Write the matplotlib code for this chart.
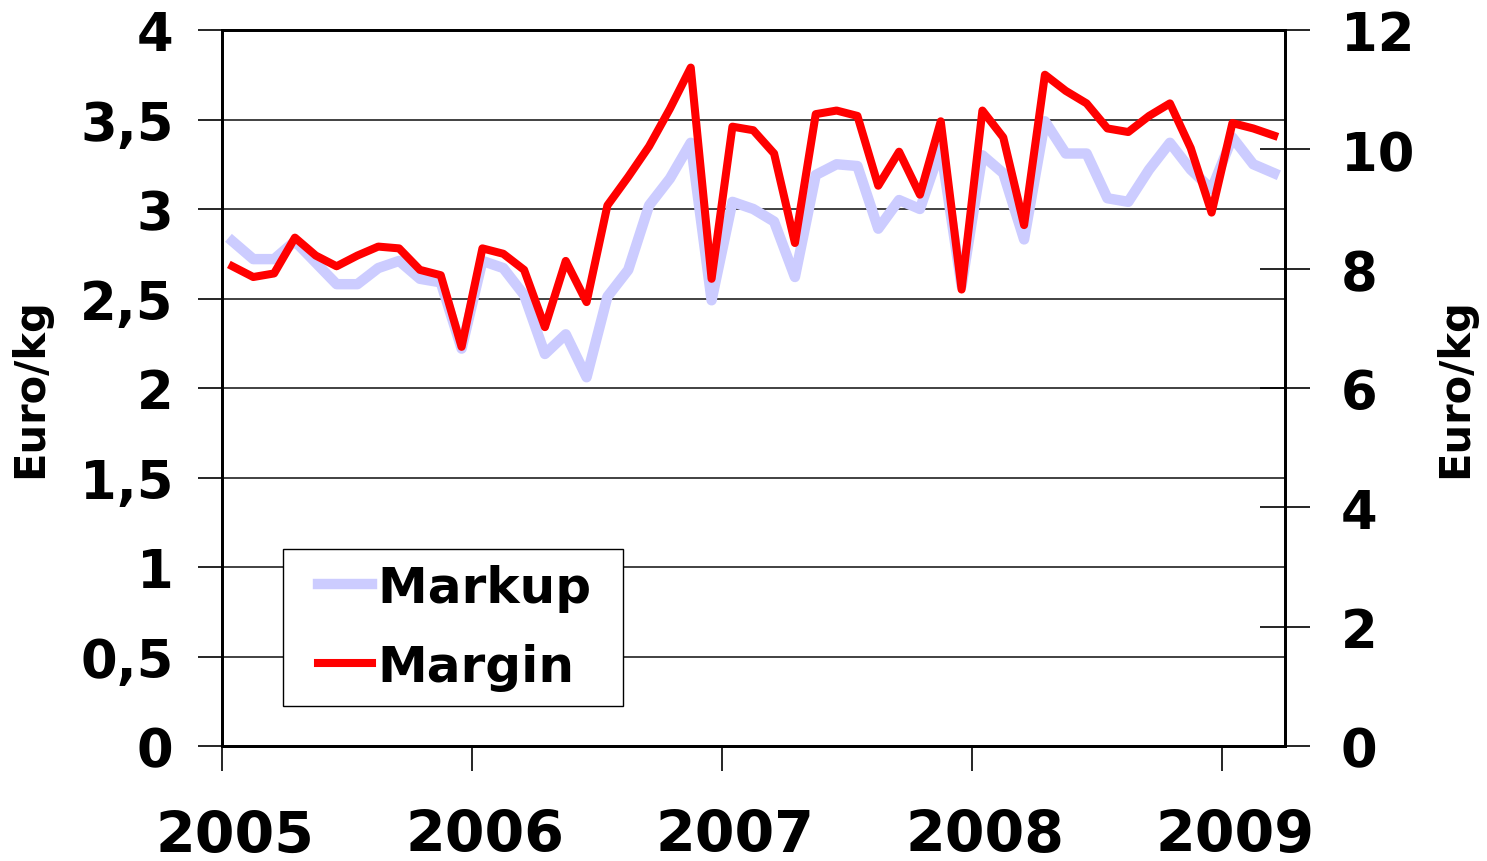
import numpy as np
import matplotlib
matplotlib.use('Agg')
import matplotlib.pyplot as plt
from matplotlib.legend_handler import HandlerLine2D

# monthly values, Jan 2005 - Mar 2009 (Euro/kg)
markup = [2.82, 2.72, 2.72, 2.82, 2.70, 2.58, 2.58, 2.67, 2.71, 2.61, 2.59, 2.22,
          2.71, 2.67, 2.52, 2.19, 2.30, 2.06, 2.51, 2.66, 3.02, 3.17, 3.37, 2.49,
          3.04, 3.00, 2.93, 2.62, 3.19, 3.25, 3.24, 2.89, 3.05, 3.00, 3.34, 2.57,
          3.30, 3.20, 2.83, 3.49, 3.31, 3.31, 3.06, 3.04, 3.22, 3.37, 3.22, 3.11,
          3.40, 3.25, 3.20]
margin = [2.68, 2.62, 2.64, 2.84, 2.74, 2.68, 2.74, 2.79, 2.78, 2.66, 2.63, 2.23,
          2.78, 2.75, 2.66, 2.34, 2.71, 2.48, 3.02, 3.18, 3.35, 3.56, 3.79, 2.61,
          3.46, 3.44, 3.31, 2.81, 3.53, 3.55, 3.52, 3.13, 3.32, 3.08, 3.49, 2.55,
          3.55, 3.40, 2.91, 3.75, 3.66, 3.59, 3.45, 3.43, 3.52, 3.59, 3.34, 2.98,
          3.48, 3.45, 3.41]
years = [2005, 2006, 2007, 2008, 2009]
left_ticks = [0, 0.5, 1, 1.5, 2, 2.5, 3, 3.5, 4]
left_labels = ['0', '0,5', '1', '1,5', '2', '2,5', '3', '3,5', '4']
right_ticks = [0, 2, 4, 6, 8, 10, 12]

plt.rcParams['font.family'] = ['DejaVu Sans']
plt.rcParams['font.weight'] = 'bold'

x = 2005 + (np.arange(len(margin)) + 0.5) / 12

fig = plt.figure(figsize=(14.87, 8.62), dpi=100)
ax = fig.add_axes([222/1487, 1-747/862, 1063/1487, 716/862])

ax.plot(x, markup, color='#CCCCFF', lw=7.5, label='Markup ', solid_joinstyle='round', zorder=3)
ax.plot(x, margin, color='#FF0000', lw=5.8, label='Margin', solid_joinstyle='round', zorder=4)

ax.set_ylim(0, 4)
ax.set_xlim(2005, 2005 + 1063/250)
ax.set_yticks(left_ticks)
ax.set_yticklabels(left_labels, fontsize=38, fontweight='bold')
ax.tick_params(axis='y', direction='out', length=17, width=1.2, pad=18)
for yv in left_ticks[1:-1]:
    ax.axhline(yv, color='#333333', lw=1.3, zorder=1)

# year ticks with labels slightly right of them
ax.set_xticks(years)
ax.set_xticklabels([])
ax.tick_params(axis='x', which='major', direction='out', length=18, width=1.2)
ax.set_xticks([yr + 0.05 for yr in years], minor=True)
ax.set_xticklabels([str(yr) for yr in years], minor=True, fontsize=41, fontweight='bold')
ax.tick_params(axis='x', which='minor', length=0, pad=45)

for s in ax.spines.values():
    s.set_linewidth(2)
    s.set_color('black')

ax2 = ax.twinx()
ax2.set_ylim(0, 12)
ax2.set_yticks(right_ticks)
ax2.set_yticklabels([str(t) for t in right_ticks], fontsize=38, fontweight='bold')
ax2.tick_params(axis='y', direction='inout', length=36, width=1.2, pad=22)
for s in ax2.spines.values():
    s.set_linewidth(2)

fig.text(30/1487, 1-388/862, 'Euro/kg', rotation=90, ha='center', va='center',
         fontsize=30, fontweight='bold')
fig.text(1455/1487, 1-388/862, 'Euro/kg', rotation=90, ha='center', va='center',
         fontsize=30, fontweight='bold')

leg = ax.legend(loc='lower left', bbox_to_anchor=(0.057, 0.056), borderaxespad=0,
                fancybox=False, edgecolor='black', framealpha=1,
                prop={'size': 36, 'weight': 'bold'}, handlelength=1.48,
                handletextpad=0.12, labelspacing=0.62, borderpad=0.3,
                handler_map={plt.Line2D: HandlerLine2D(xpad=0.4)})
leg.get_frame().set_linewidth(1)
leg.set_zorder(10)

plt.savefig('out.png', dpi=100)
plt.close()
